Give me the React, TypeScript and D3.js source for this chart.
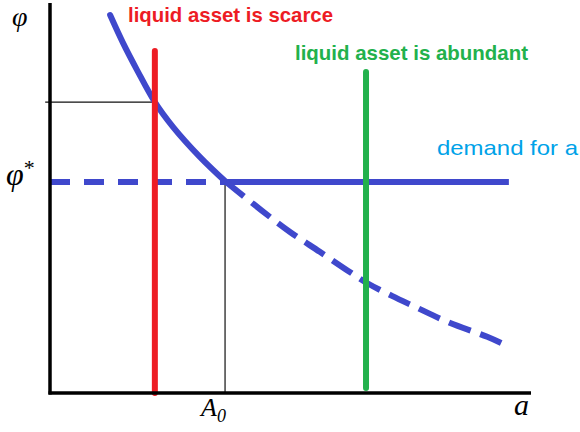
import React, { useLayoutEffect, useRef, useState } from "react";
import * as d3 from "d3";

// Demand curve for liquid asset (a, phi)
const curveA = [1.25, 1.52, 1.81, 2.18, 2.56, 3.12, 3.66, 4.39, 4.99, 5.61, 6.2, 6.59, 7.11, 7.59, 8.27, 9.09, 9.38];
const curvePhi = [9.69, 8.97, 8.28, 7.46, 6.82, 6.05, 5.41, 4.69, 4.13, 3.62, 3.13, 2.82, 2.49, 2.21, 1.82, 1.44, 1.28];

const A0 = [3.66];
const phiStar = [5.41];
const demandEnd = [9.54];
const scarce = [2.18, 8.77, 0]; // x, top, bottom
const abundant = [6.57, 8.23, 0.13];
const phiScarce = [7.46];
const axisMax = [10, 10];

const labels = ["liquid asset is scarce", "liquid asset is abundant", "demand for a"];

const W = 580;
const H = 432;

export default function App() {
  const x = d3.scaleLinear().domain([0, axisMax[0]]).range([50, 531]);
  const y = d3.scaleLinear().domain([0, axisMax[1]]).range([393, 3]);

  const pts = curveA.map((a, i) => [a, curvePhi[i]] as [number, number]);
  const solidPts = pts.filter((p) => p[0] <= A0[0] + 1e-9);
  const dashPts = pts.filter((p) => p[0] >= A0[0] - 1e-9);
  const line = d3
    .line<[number, number]>()
    .x((d) => x(d[0]))
    .y((d) => y(d[1]))
    .curve(d3.curveCatmullRom.alpha(0.5));

  const dashRef = useRef<SVGPathElement>(null);
  const [dash, setDash] = useState("23,12");
  useLayoutEffect(() => {
    const el = dashRef.current;
    if (!el) return;
    const L = el.getTotalLength();
    const d = 23;
    const n = Math.round((L - d) / 35);
    const g = (L - (n + 1) * d) / n;
    setDash(`${d},${g.toFixed(2)}`);
  }, []);

  const blue = "#3f48cc";
  const red = "#ed1c24";
  const green = "#22b14c";
  const sky = "#00a2e8";
  const serif = "'Liberation Serif', 'DejaVu Serif', serif";

  return (
    <svg
      width={W}
      height={H}
      style={{ position: "absolute", left: 0, top: 0, background: "#fff" }}
    >
      {/* thin guide lines */}
      <line x1={x(-0.1)} x2={x(scarce[0])} y1={y(phiScarce[0])} y2={y(phiScarce[0])} stroke="#111" strokeWidth={1.2} />
      <line x1={x(A0[0]) - 1} x2={x(A0[0]) - 1} y1={y(phiStar[0])} y2={y(0)} stroke="#111" strokeWidth={1.2} />

      {/* horizontal demand: dashed then solid */}
      <line x1={x(0)} x2={x(A0[0])} y1={y(phiStar[0])} y2={y(phiStar[0])} stroke={blue} strokeWidth={6} strokeDasharray="20,14" />
      <line x1={x(A0[0])} x2={x(demandEnd[0])} y1={y(phiStar[0])} y2={y(phiStar[0])} stroke={blue} strokeWidth={6} />

      {/* curve */}
      <path d={line(solidPts) || ""} fill="none" stroke={blue} strokeWidth={6} strokeLinecap="round" />
      <path ref={dashRef} d={line(dashPts) || ""} fill="none" stroke={blue} strokeWidth={6} strokeDasharray={dash} />

      {/* supply lines */}
      <line x1={x(scarce[0])} x2={x(scarce[0])} y1={y(scarce[1])} y2={y(scarce[2])} stroke={red} strokeWidth={6} strokeLinecap="round" />
      <line x1={x(abundant[0])} x2={x(abundant[0])} y1={y(abundant[1])} y2={y(abundant[2])} stroke={green} strokeWidth={6} strokeLinecap="round" />

      {/* axes */}
      <line x1={x(0)} x2={x(0)} y1={y(axisMax[1])} y2={y(0) + 1.5} stroke="#000" strokeWidth={3.5} />
      <line x1={x(0) - 1.5} x2={x(axisMax[0])} y1={y(0)} y2={y(0)} stroke="#000" strokeWidth={3.5} />

      {/* axis labels */}
      <text x={12} y={26} fontFamily={serif} fontStyle="italic" fontSize={28}>φ</text>
      <text x={6} y={y(phiStar[0]) + 3} fontFamily={serif} fontStyle="italic" fontSize={32}>
        φ<tspan fontSize={22} dy={-10} fontStyle="normal">*</tspan>
      </text>
      <text x={x(A0[0]) - 25} y={416} fontFamily={serif} fontStyle="italic" fontSize={26}>
        A<tspan fontSize={18} dy={6}>0</tspan>
      </text>
      <text x={x(axisMax[0]) - 17} y={415} fontFamily={serif} fontStyle="italic" fontSize={30}>a</text>

      {/* annotations */}
      <text x={128} y={22} fill={red} fontFamily="'Liberation Sans', Arial, sans-serif" fontWeight="bold" fontSize={21} textLength={205} lengthAdjust="spacingAndGlyphs">{labels[0]}</text>
      <text x={295} y={60} fill={green} fontFamily="'Liberation Sans', Arial, sans-serif" fontWeight="bold" fontSize={21} textLength={233} lengthAdjust="spacingAndGlyphs">{labels[1]}</text>
      <text x={437} y={155} fill={sky} fontFamily="'Liberation Sans', Arial, sans-serif" fontSize={21} textLength={141} lengthAdjust="spacingAndGlyphs">{labels[2]}</text>
    </svg>
  );
}
